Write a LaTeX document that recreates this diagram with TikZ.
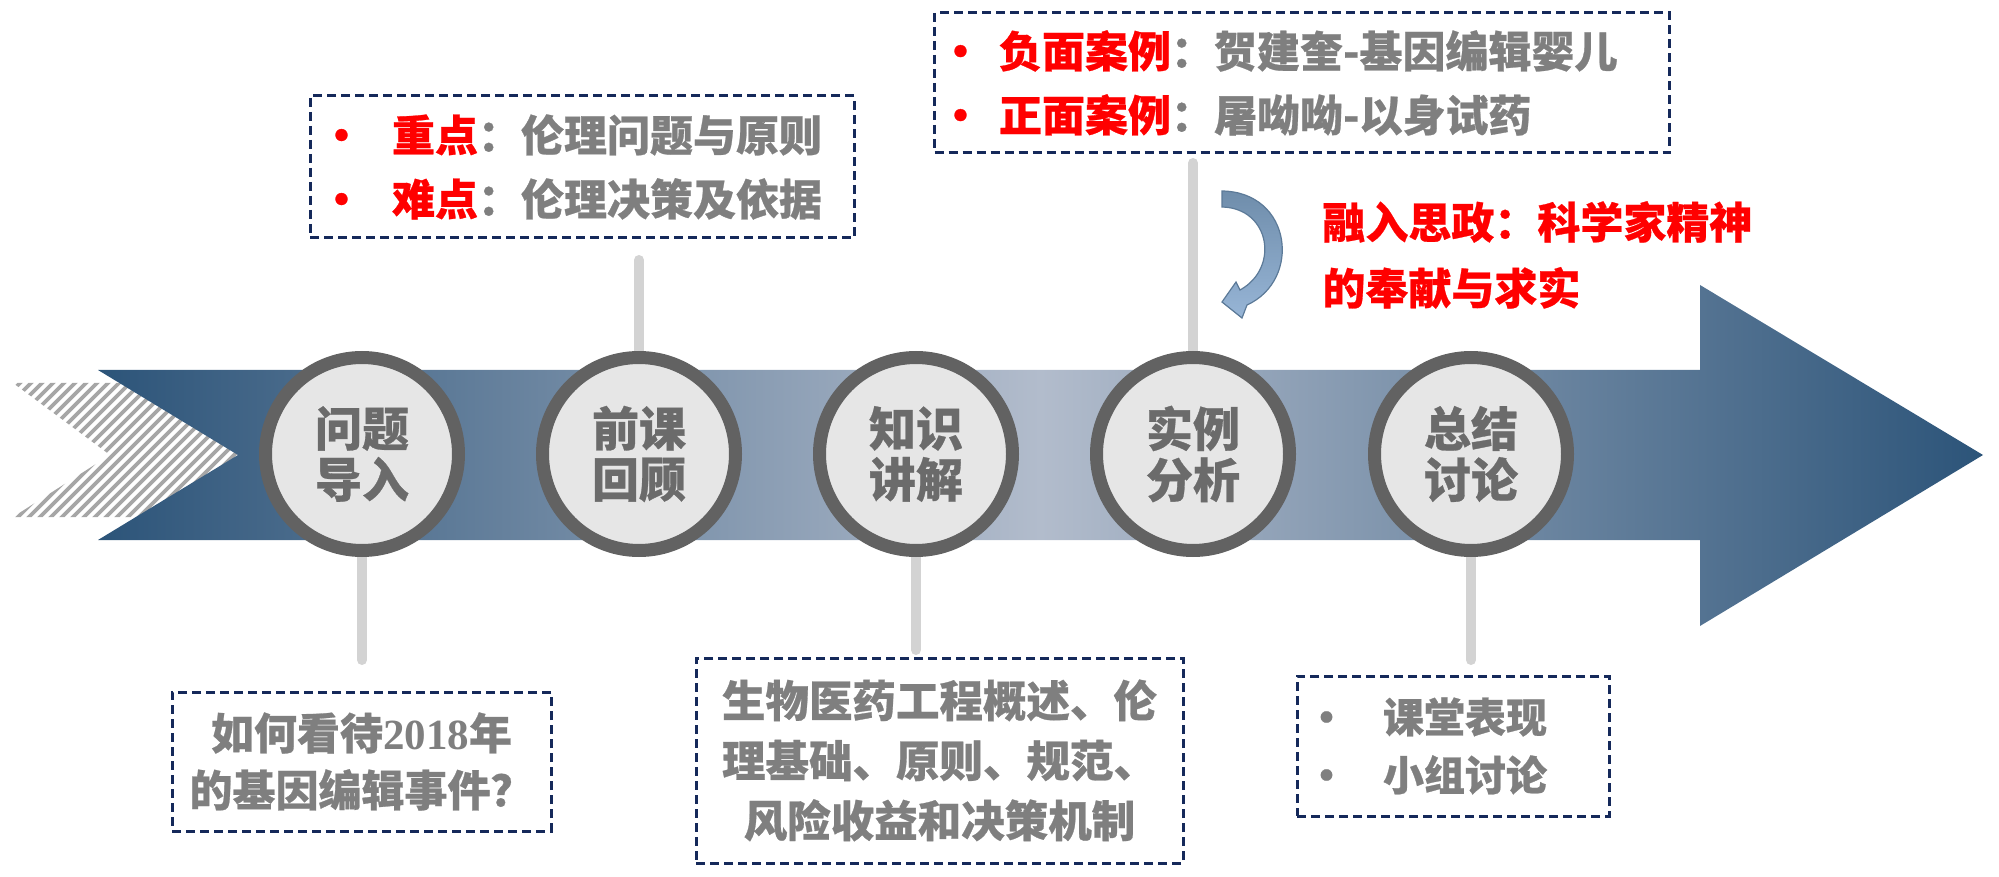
\documentclass[tikz,border=0pt]{standalone}
\usepackage{fontspec}
\newfontfamily\cjk{Noto Sans CJK SC}[BoldFeatures={FakeBold=0.6}]
\newfontfamily\tnr{Liberation Serif}
\usetikzlibrary{backgrounds}
\definecolor{adark}{HTML}{2C5479}
\definecolor{alight}{HTML}{B2BCCC}
\definecolor{ringgray}{HTML}{626262}
\definecolor{cfill}{HTML}{E6E6E6}
\definecolor{ctext}{HTML}{6B6B6B}
\definecolor{tgray}{HTML}{7F7F7F}
\definecolor{navy}{HTML}{15295A}
\definecolor{conngray}{HTML}{D3D3D3}
\definecolor{stripegray}{HTML}{A6A6A6}
\definecolor{cadark}{HTML}{6F8DAB}
\definecolor{calight}{HTML}{97B5D6}
\definecolor{caedge}{HTML}{5C7A98}
\newcommand\bul[3]{\makebox[#2][l]{\hspace{#3}\textcolor{#1}{•}}}
\begin{document}
\begin{tikzpicture}[x=0.5pt,y=-0.5pt,
  stepcircle/.style={circle, draw=ringgray, line width=6.5pt, fill=cfill,
    minimum size=96.5pt, inner sep=0pt, align=center, text=ctext,
    font=\cjk\bfseries\fontsize{23.5}{25.5}\selectfont},
  dbox/.style={draw=navy, line width=1.5pt, dash pattern=on 4.5pt off 2.5pt,
    inner sep=0pt, fill=white, text=tgray},
  boxfont/.style 2 args={font=\cjk\bfseries\fontsize{#1}{#2}\selectfont},
  conn/.style={draw=conngray, line width=5pt, line cap=round},
  stripe/.style={draw=stripegray, line width=1.8pt}]
\useasboundingbox (0,0) rectangle (1999,877);

% background: striped chevron and main arrow
\begin{scope}[on background layer]
  \begin{scope}
    \clip (13,383) -- (200,383) -- (290,455) -- (200,517) -- (13,517) -- (110,455) -- cycle;
    \foreach \i in {0,...,42} \draw[stripe] (\i*11-160,530) -- ++(165,-165);
  \end{scope}
  \shade[left color=adark, right color=adark, middle color=alight]
    (98,370) -- (1700,370) -- (1700,285) -- (1983,455) -- (1700,626)
    -- (1700,540) -- (98,540) -- (238,455) -- cycle;
\end{scope}

% circles
\node[stepcircle] (c1) at (362,454) {问题\\导入};
\node[stepcircle] (c2) at (639,454) {前课\\回顾};
\node[stepcircle] (c3) at (916,454) {知识\\讲解};
\node[stepcircle] (c4) at (1193,454) {实例\\分析};
\node[stepcircle] (c5) at (1471,454) {总结\\讨论};

% connector free ends
\coordinate (l1) at (362,660);
\coordinate (l2) at (639,260);
\coordinate (l3) at (916,650);
\coordinate (l4) at (1193,163);
\coordinate (l5) at (1471,660);

\begin{scope}[on background layer]
  \draw[conn] (c1) -- (l1);
  \draw[conn] (c2) -- (l2);
  \draw[conn] (c3) -- (l3);
  \draw[conn] (c4) -- (l4);
  \draw[conn] (c5) -- (l5);
\end{scope}

% boxes
\node[dbox, minimum width=272pt, minimum height=71pt, text width=247pt, align=left,
  boxfont={21.5}{32}] (b2) at (582,167)
  {\bul{red}{28.5pt}{-7.5pt}\textcolor{red}{重点}：伦理问题与原则\\
   \bul{red}{28.5pt}{-7.5pt}\textcolor{red}{难点}：伦理决策及依据};

\node[dbox, minimum width=367.5pt, minimum height=70pt, text width=347pt, align=left,
  boxfont={21.5}{32}] (b4) at (1302,83)
  {\bul{red}{22pt}{-8pt}\textcolor{red}{负面案例}：贺建奎-基因编辑婴儿\\
   \bul{red}{22pt}{-8pt}\textcolor{red}{正面案例}：屠呦呦-以身试药};

\node[dbox, minimum width=189.5pt, minimum height=69.5pt, align=center,
  boxfont={21.5}{28.5}] (b1) at (361.5,761.5)
  {如何看待{\tnr\bfseries 2018}年\\的基因编辑事件？};

\node[dbox, minimum width=243.5pt, minimum height=102.5pt, align=center,
  boxfont={21.75}{30}] (b3) at (939.5,760.5)
  {生物医药工程概述、伦\\理基础、原则、规范、\\风险收益和决策机制};

\node[dbox, minimum width=156pt, minimum height=70pt, text width=131pt, align=left,
  boxfont={20.5}{29}] (b5) at (1453,746)
  {\bul{tgray}{30.5pt}{-8pt}课堂表现\\ \bul{tgray}{30.5pt}{-8pt}小组讨论};

% red note
\node[anchor=west, align=left, text=red, inner sep=0pt,
  font=\cjk\bfseries\fontsize{21.5}{33}\selectfont] (sz) at (1322,255)
  {融入思政：科学家精神\\的奉献与求实};

% curved arrow
\shade[top color=cadark, bottom color=calight, draw=caedge, line width=0.6pt]
  (1222,191) .. controls (1292,192) and (1302,280) .. (1247,305)
  -- (1242,318) -- (1222,302) -- (1236,282) -- (1240,290)
  .. controls (1280,268) and (1270,208) .. (1222,207) -- cycle;
\end{tikzpicture}
\end{document}
